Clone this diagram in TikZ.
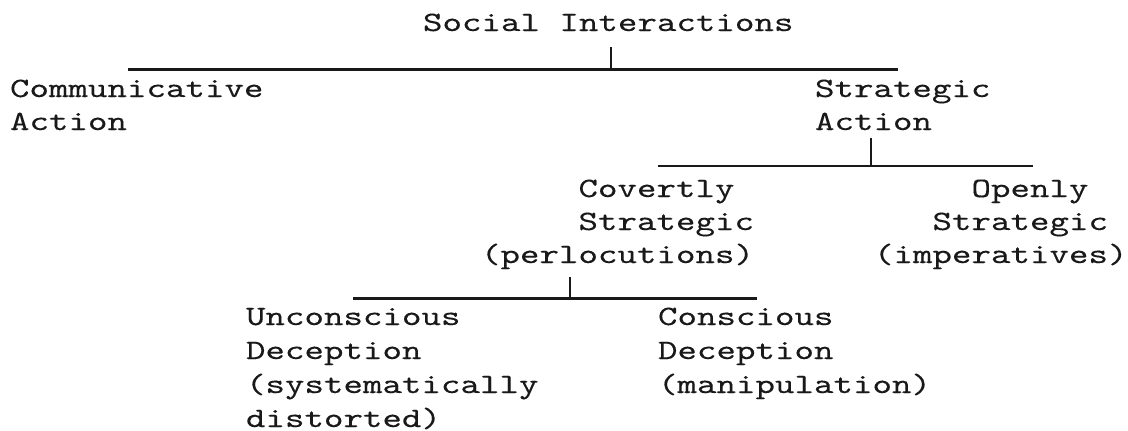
\documentclass[tikz,border=0pt]{standalone}
\usepackage{fontspec}
\newfontfamily\typewriter{lmmono10-regular}[Extension=.otf, FakeStretch=1.3265, FakeBold=0.2]
\begin{document}
\begin{tikzpicture}[x=1pt,y=-1pt]
\tikzset{
  lbl/.style={anchor=base west, inner sep=0pt, outer sep=0pt, text=black!90,
              font=\typewriter\fontsize{28}{33}\selectfont},
  bar/.style={line width=2.2pt, line cap=butt, black!90},
  tickline/.style={line width=2.2pt, line cap=butt, black!90}
}
\newcommand\cells[1]{\hspace*{\dimexpr #1\dimexpr 19.5pt\relax\relax}}
\useasboundingbox (0,0) rectangle (1128,431);

% text blocks
\node[lbl] (social) at (423,31) {Social\cells{1}Interactions};
\node[lbl] (comm) at (10,97) {\vtop{\baselineskip=33pt\hbox{Communicative}\hbox{Action}}};
\node[lbl] (strat) at (815,97) {\vtop{\baselineskip=33pt\hbox{Strategic}\hbox{Action}}};
\node[lbl] (covert) at (481,197) {\vtop{\baselineskip=33pt\hbox{\cells{5}Covertly}\hbox{\cells{5}Strategic}\hbox{(perlocutions)}}};
\node[lbl] (openly) at (874,197) {\vtop{\baselineskip=33pt\hbox{\cells{5}Openly}\hbox{\cells{3}Strategic}\hbox{(imperatives)}}};
\node[lbl] (uncons) at (246,325) {\vtop{\baselineskip=34pt\hbox{Unconscious}\hbox{Deception}\hbox{(systematically}\hbox{distorted)}}};
\node[lbl] (cons) at (658,325) {\vtop{\baselineskip=34pt\hbox{Conscious}\hbox{Deception}\hbox{(manipulation)}}};

% branching bars
\coordinate (t1) at (611,47);   \coordinate (m1) at (611,69.5);
\coordinate (l1) at (128,69.5); \coordinate (r1) at (898,69.5);
\coordinate (t2) at (871,138);  \coordinate (m2) at (871,166);
\coordinate (l2) at (658,166);  \coordinate (r2) at (1033,166);
\coordinate (t3) at (570,277);  \coordinate (m3) at (570,298.5);
\coordinate (l3) at (353,298.5);\coordinate (r3) at (757,298.5);

\draw[tickline] (t1) -- (m1);
\draw[bar] (l1) -- (r1);
\draw[tickline] (t2) -- (m2);
\draw[bar] (l2) -- (r2);
\draw[tickline] (t3) -- (m3);
\draw[bar] (l3) -- (r3);
\end{tikzpicture}
\end{document}
